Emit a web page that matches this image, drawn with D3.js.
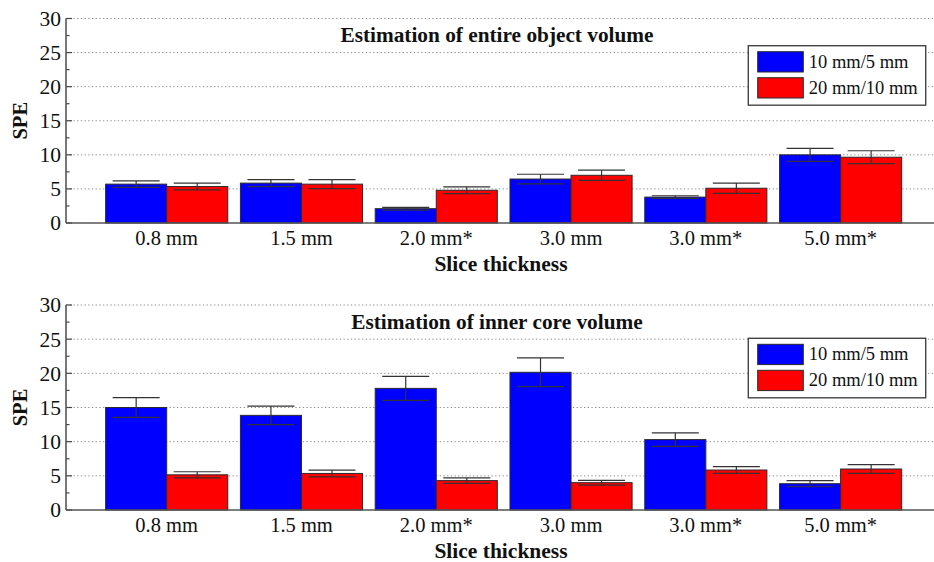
<!DOCTYPE html>
<html>
<head>
<meta charset="utf-8">
<script src="https://cdn.jsdelivr.net/npm/d3@7"></script>
<style>
  body { margin: 0; background: #fff; }
</style>
</head>
<body>
<svg id="chart" width="934" height="562"></svg>
<script>
// Data ---------------------------------------------------------------
const categories = ["0.8 mm", "1.5 mm", "2.0 mm*", "3.0 mm", "3.0 mm*", "5.0 mm*"];
const seriesNames = ["10 mm/5 mm", "20 mm/10 mm"];
const yTicks = [0, 5, 10, 15, 20, 25, 30];

// Estimation of entire object volume
const entireBlue = [5.7, 5.85, 2.1, 6.45, 3.8, 10.0];
const entireBlueErr = [0.47, 0.5, 0.2, 0.7, 0.2, 0.95];
const entireRed = [5.35, 5.7, 4.8, 7.0, 5.1, 9.65];
const entireRedErr = [0.5, 0.65, 0.5, 0.75, 0.75, 0.95];

// Estimation of inner core volume
const coreBlue = [15.0, 13.85, 17.8, 20.15, 10.3, 3.85];
const coreBlueErr = [1.45, 1.35, 1.75, 2.1, 1.0, 0.45];
const coreRed = [5.15, 5.35, 4.3, 4.0, 5.85, 6.0];
const coreRedErr = [0.45, 0.5, 0.4, 0.35, 0.5, 0.65];

const colors = ["#0000ff", "#ff0000"];
const serif = '"Liberation Serif"';

const svg = d3.select("#chart");

// Panels: top = 30 line, bottom = 0 line
const panels = [
  { title: "Estimation of entire object volume", top: 18.5, bottom: 223, legendTop: 45.7,
    values: [entireBlue, entireRed], errors: [entireBlueErr, entireRedErr] },
  { title: "Estimation of inner core volume", top: 305, bottom: 510, legendTop: 338.3,
    values: [coreBlue, coreRed], errors: [coreBlueErr, coreRedErr] }
];

const axisX = 66;
const rightX = 934;

// x scale spoločná pre oba grafy
const x = d3.scaleBand()
  .domain(categories)
  .range([99.3, 908])
  .paddingInner(0.094)
  .paddingOuter(0.047);

const xSub = d3.scaleBand()
  .domain(seriesNames)
  .range([0, x.bandwidth()]);

// pomocná funkcia na text so serifovým fontom
function label(sel, size, bold) {
  sel.style("font-family", serif).attr("font-size", size).attr("fill", "#111");
  if (bold) sel.attr("font-weight", "bold");
  return sel;
}

panels.forEach(p => {
  const g = svg.append("g");
  const y = d3.scaleLinear().domain([0, 30]).range([p.bottom, p.top]);

  // dotted gridlines
  g.append("g").selectAll("line")
    .data(yTicks.filter(d => d > 0))
    .join("line")
    .attr("x1", axisX).attr("x2", rightX)
    .attr("y1", d => y(d)).attr("y2", d => y(d))
    .attr("stroke", "#8c8c8c")
    .attr("stroke-width", 1)
    .attr("stroke-dasharray", "1.3,2.4");

  // bars
  p.values.forEach((vals, si) => {
    g.append("g").selectAll("rect")
      .data(vals)
      .join("rect")
      .attr("x", (d, i) => x(categories[i]) + xSub(seriesNames[si]))
      .attr("y", d => y(d))
      .attr("width", xSub.bandwidth())
      .attr("height", d => y(0) - y(d))
      .attr("fill", colors[si])
      .attr("stroke", "#2a2a2a")
      .attr("stroke-width", 1);
  });

  // error bars
  p.values.forEach((vals, si) => {
    const capW = xSub.bandwidth() * 0.77;
    const eg = g.append("g").attr("stroke", "#333").attr("stroke-width", 1.2).attr("fill", "none");
    vals.forEach((v, i) => {
      const e = p.errors[si][i];
      const cx = x(categories[i]) + xSub(seriesNames[si]) + xSub.bandwidth() / 2;
      eg.append("line").attr("x1", cx).attr("x2", cx).attr("y1", y(v + e)).attr("y2", y(v - e));
      eg.append("line").attr("x1", cx - capW / 2).attr("x2", cx + capW / 2).attr("y1", y(v + e)).attr("y2", y(v + e));
      eg.append("line").attr("x1", cx - capW / 2).attr("x2", cx + capW / 2).attr("y1", y(v - e)).attr("y2", y(v - e));
    });
  });

  // y axis s vnútornými tickmi
  const yAxis = d3.axisLeft(y).tickValues(yTicks).tickSize(0).tickPadding(5);
  const ya = g.append("g").attr("transform", `translate(${axisX},0)`).call(yAxis);
  ya.attr("font-family", null).attr("font-size", null);
  ya.select(".domain").remove();
  label(ya.selectAll("text"), 21.5, false);

  const minor = d3.range(0, 30.01, 2.5);
  g.append("g").selectAll("line")
    .data(minor)
    .join("line")
    .attr("x1", axisX)
    .attr("x2", d => axisX + (d % 5 === 0 ? 6 : 3.5))
    .attr("y1", d => y(d)).attr("y2", d => y(d))
    .attr("stroke", "#444").attr("stroke-width", 1.2);

  g.append("line")
    .attr("x1", axisX).attr("x2", axisX)
    .attr("y1", p.top).attr("y2", p.bottom)
    .attr("stroke", "#555").attr("stroke-width", 1.6);
  g.append("line")
    .attr("x1", axisX).attr("x2", rightX)
    .attr("y1", p.bottom).attr("y2", p.bottom)
    .attr("stroke", "#555").attr("stroke-width", 1.6);

  // x labels
  label(g.append("g").selectAll("text")
    .data(categories)
    .join("text")
    .attr("x", d => x(d) + x.bandwidth() / 2)
    .attr("y", p.bottom + 22)
    .attr("text-anchor", "middle"), 20.5, false)
    .text(d => d);

  label(g.append("text")
    .attr("x", 501)
    .attr("y", p.bottom + 47.5)
    .attr("text-anchor", "middle"), 21.5, true)
    .text("Slice thickness");

  label(g.append("text")
    .attr("transform", `translate(27,${(p.top + p.bottom) / 2}) rotate(-90)`)
    .attr("text-anchor", "middle"), 20.5, true)
    .text("SPE");

  label(g.append("text")
    .attr("x", 497)
    .attr("y", p.top + 23.5)
    .attr("text-anchor", "middle"), 21.3, true)
    .text(p.title);

  // legenda
  const lg = g.append("g").attr("transform", `translate(748.3,${p.legendTop})`);
  lg.append("rect")
    .attr("width", 177.4).attr("height", 59.5)
    .attr("fill", "#fff").attr("stroke", "#444").attr("stroke-width", 1.4);
  seriesNames.forEach((s, i) => {
    lg.append("rect")
      .attr("x", 9.4).attr("y", 6 + i * 26)
      .attr("width", 45.6).attr("height", 20.3)
      .attr("fill", colors[i]).attr("stroke", "#2a2a2a").attr("stroke-width", 1);
    label(lg.append("text")
      .attr("x", 60.5).attr("y", 22 + i * 26), 18.5, false)
      .text(s);
  });
});
</script>
</body>
</html>
